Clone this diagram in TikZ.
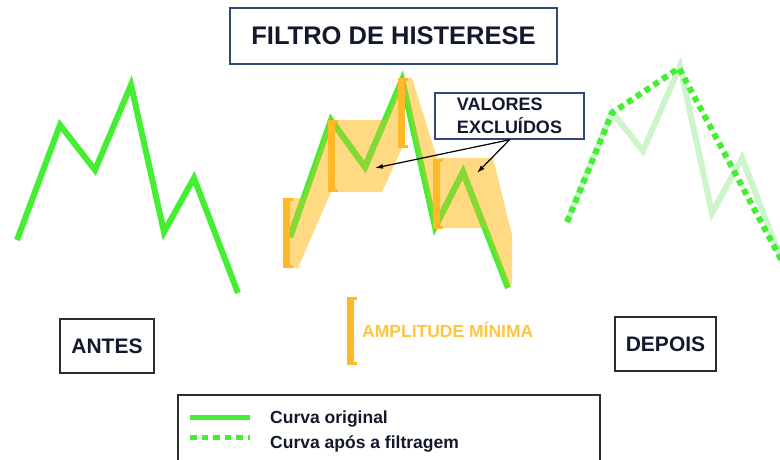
\documentclass[tikz,border=0pt]{standalone}
\usepackage{fontspec}
\setmainfont{Liberation Sans}
\usepackage{xcolor}
\usetikzlibrary{arrows.meta}
\tikzset{>=latex}
\definecolor{curva}{RGB}{68,238,51}
\definecolor{curvaclara}{RGB}{204,245,204}
\definecolor{curvafaixa}{RGB}{135,216,50}
\definecolor{faixa}{RGB}{255,218,130}
\definecolor{laranja}{RGB}{255,184,40}
\definecolor{textolaranja}{RGB}{255,196,64}
\definecolor{azulborda}{RGB}{47,74,120}
\definecolor{cinzaborda}{RGB}{45,45,45}
\definecolor{textoescuro}{RGB}{20,24,45}
% colchete laranja: x, topo, base
\newcommand{\colchete}[3]{%
	\fill[laranja] (#1,#2) rectangle (#1+7,#3);
	\fill[laranja] (#1,#2) rectangle (#1+10,#2+3);
	\fill[laranja] (#1,#3-3) rectangle (#1+10,#3);
}
\newcommand{\faixas}{%
	(283,198) -- (303,198) -- (331,120) -- (331,192) -- (298,268) -- (283,268) -- cycle
	(331,120) -- (385,120) -- (402,80) -- (402,148) -- (382,192) -- (331,192) -- cycle
	(398,78) -- (412,78) -- (437,158) -- (437,228) -- (435,227) -- (402,80) -- cycle
	(433,158) -- (493,158) -- (512,235) -- (512,283) -- (508,288) -- (485,228) -- (433,228) -- cycle
}
\newcommand{\curvameio}{(290,237) -- (331,120) -- (365,167) -- (402,80) -- (435,227) -- (463,172) -- (508,288)}

\begin{document}
\begin{tikzpicture}[x=1pt, y=-1pt,
		linha/.style={line width=6pt},
		pontilhado/.style={line width=6pt, color=curva, dash pattern=on 6pt off 4.5pt},
		caixaazul/.style={draw=azulborda, line width=1.6pt, inner sep=0pt, text=textoescuro},
		caixacinza/.style={draw=cinzaborda, line width=2pt, inner sep=0pt, text=textoescuro},
		seta/.style={-{Latex[length=8pt,width=5pt]}, line width=1.2pt, black},
		]
	\useasboundingbox (0,0) rectangle (780,460);

	\node[caixaazul, minimum width=327pt, minimum height=56pt,
		font=\fontsize{25.5}{30}\selectfont\bfseries] (titulo) at (393.5,36) {FILTRO DE HISTERESE};

	% antes
	\draw[linha, curva] (17,240) -- (60,125) -- (95,170) -- (131,85) -- (164,232) -- (194,178) -- (238,293);
	\node[caixacinza, minimum width=94pt, minimum height=54pt,
		font=\fontsize{21}{24}\selectfont\bfseries] (antes) at (107,346) {ANTES};

	% filtro
	\fill[faixa] \faixas;
	\draw[linha, curva] \curvameio;
	\begin{scope}
		\clip \faixas;
		\draw[linha, curvafaixa] \curvameio;
	\end{scope}
	\colchete{283}{198}{268}
	\colchete{328}{120}{192}
	\colchete{398}{78}{148}
	\colchete{433}{159}{229}

	\node[caixaazul, minimum width=149pt, minimum height=46pt, align=left,
		font=\fontsize{18}{23}\selectfont\bfseries] (valores) at (509.5,116) {VALORES\\EXCLUÍDOS};
	\coordinate (exc1) at (375,168);
	\coordinate (exc2) at (477,173);
	\draw[seta] (valores.south) -- (exc1);
	\draw[seta] (valores.south) -- (exc2);

	\colchete{347}{297}{365}
	\node[anchor=base west, inner sep=0pt, text=textolaranja,
		font=\fontsize{17.5}{20}\selectfont\bfseries] (amplitude) at (362,337.5) {AMPLITUDE MÍNIMA};

	% depois
	\draw[linha, curvaclara] (567,222) -- (612,112) -- (643,151) -- (680,66) -- (712,213) -- (742,158) -- (786,272);
	\draw[pontilhado] (567,222) -- (612,113) -- (679,68) -- (784,265);
	\node[caixacinza, minimum width=101pt, minimum height=54pt,
		font=\fontsize{21}{24}\selectfont\bfseries] (depois) at (665.5,344) {DEPOIS};

	% legenda
	\draw[draw=cinzaborda, line width=2pt] (178,395) rectangle (600,466);
	\draw[line width=5pt, curva] (190,417) -- (250,417);
	\draw[line width=5pt, curva, dash pattern=on 6.5pt off 5pt] (190,437) -- (250,437);
	\node[anchor=base west, inner sep=0pt, text=textoescuro,
		font=\fontsize{17.5}{20}\selectfont\bfseries] (leg1) at (270,423) {Curva original};
	\node[anchor=base west, inner sep=0pt, text=textoescuro,
		font=\fontsize{17.5}{20}\selectfont\bfseries] (leg2) at (270,448) {Curva após a filtragem};
\end{tikzpicture}
\end{document}
